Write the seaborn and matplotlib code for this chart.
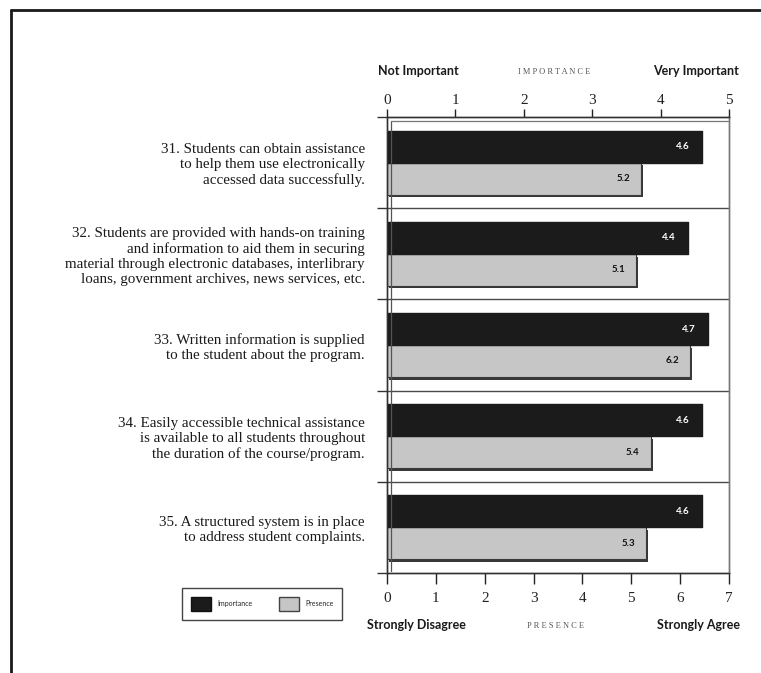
import matplotlib
matplotlib.use("Agg")
import matplotlib.pyplot as plt
import matplotlib.patheffects as pe
from matplotlib.lines import Line2D
from matplotlib.patches import Patch
import pandas as pd
import seaborn as sns

# ---- data -------------------------------------------------------------
items = [
    "31. Students can obtain assistance\nto help them use electronically\naccessed data successfully.",
    "32. Students are provided with hands-on training\nand information to aid them in securing\n"
    "material through electronic databases, interlibrary\nloans, government archives, news services, etc.",
    "33. Written information is supplied\nto the student about the program.",
    "34. Easily accessible technical assistance\nis available to all students throughout\n"
    "the duration of the course/program.",
    "35. A structured system is in place\nto address student complaints.",
]
importance = [4.6, 4.4, 4.7, 4.6, 4.6]
presence = [5.2, 5.1, 6.2, 5.4, 5.3]
importance_ticks = [0, 1, 2, 3, 4, 5]
presence_ticks = [0, 1, 2, 3, 4, 5, 6, 7]
series = ["Importance", "Presence"]

DARK = "#1b1b1b"
LIGHT = "#c6c6c6"
palette = {"Importance": DARK, "Presence": LIGHT}

df = pd.DataFrame({
    "item": items * 2,
    "series": ["Importance"] * len(items) + ["Presence"] * len(items),
    "value": importance + presence,
})

sns.set_theme(style="white")
SERIF = ["Liberation Serif", "DejaVu Serif"]
SANS = ["Lato", "DejaVu Sans"]
plt.rcParams["font.family"] = SERIF

W, H = 761, 673
fig = plt.figure(figsize=(W / 100, H / 100), dpi=100)
fig.patch.set_facecolor("white")


def fx(x):
    return x / W


def fy(y):
    return 1 - y / H


# presence scale on the bottom axis, importance scale on a twin top axis
ax = fig.add_axes([fx(387), fy(573), fx(729) - fx(387), fy(117) - fy(573)])
ax_imp = ax.twiny()

sns.barplot(data=df[df.series == "Presence"], x="value", y="item", hue="series",
            hue_order=series, palette=palette, orient="h", dodge=True, width=0.7,
            legend=False, ax=ax, edgecolor="#3a3a3a", linewidth=0.8)
sns.barplot(data=df[df.series == "Importance"], x="value", y="item", hue="series",
            hue_order=series, palette=palette, orient="h", dodge=True, width=0.7,
            legend=False, ax=ax_imp, edgecolor=DARK, linewidth=1.0)

for p in ax_imp.patches:
    p.set_joinstyle("round")
for p in ax.patches:
    p.set_path_effects([pe.SimplePatchShadow(offset=(1.5, -2), shadow_rgbFace="#222222", alpha=0.9),
                        pe.Normal()])

ax.set_xlim(0, 7)
ax_imp.set_xlim(0, 5)
ax.set_ylim(len(items) - 0.5, -0.5)

# value labels at the inner end of each bar
for p, v in zip(ax_imp.patches, importance):
    ax_imp.annotate(f"{v}", (v, p.get_y() + p.get_height() / 2), xytext=(-9, 0),
                    textcoords="offset points", ha="right", va="center",
                    fontsize=7, fontweight="bold", color="white", family=SANS)
for p, v in zip(ax.patches, presence):
    ax.annotate(f"{v}", (v, p.get_y() + p.get_height() / 2), xytext=(-8, 0),
                textcoords="offset points", ha="right", va="center",
                fontsize=7, fontweight="bold", color="#111111", family=SANS)

# category separators
for b in range(len(items) - 1):
    ax.axhline(b + 0.5, color="#4a4a4a", lw=1.0, zorder=0)

# axes styling
for a in (ax, ax_imp):
    for s in a.spines.values():
        s.set_color("#333333")
        s.set_linewidth(1.0)
ax.spines["right"].set_color("#777777")
ax_imp.spines["right"].set_color("#777777")

ax.set_xticks(presence_ticks)
ax.set_xticklabels([str(t) for t in presence_ticks])
ax.tick_params(axis="x", bottom=True, direction="out", length=8, width=1, pad=6,
               labelsize=11, colors="#222222")
ax_imp.set_xticks(importance_ticks)
ax_imp.set_xticklabels([str(t) for t in importance_ticks])
ax_imp.tick_params(axis="x", top=True, direction="out", length=6, width=1, pad=1,
                   labelsize=11, colors="#222222")
ax.set_xlabel("")
ax_imp.set_xlabel("")
ax.set_ylabel("")
ax_imp.set_ylabel("")

ax.set_yticks(range(len(items)))
ax.set_yticklabels(items)
ax.set_yticks([i + 0.5 for i in range(-1, len(items))], minor=True)
ax.tick_params(axis="y", which="major", left=False, length=0, pad=16, labelsize=10.8,
               colors="#1a1a1a")
ax.tick_params(axis="y", which="minor", left=True, direction="out", length=7, width=1,
               color="#333333")
for lab in ax.get_yticklabels():
    lab.set_linespacing(1.22)
    lab.set_horizontalalignment("right")
ax_imp.tick_params(axis="y", left=False, right=False, labelleft=False)

# back wall of the box
fig.add_artist(Line2D([fx(391), fx(391)], [fy(121), fy(571)], color="#555555", lw=0.9))
fig.add_artist(Line2D([fx(391), fx(729)], [fy(121), fy(121)], color="#777777", lw=0.9))

# scale titles
hdr = dict(family=SANS, fontsize=9, fontweight="bold", color="#1a1a1a", va="center")
fig.text(fx(378), fy(71), "Not Important", ha="left", **hdr)
fig.text(fx(739), fy(71), "Very Important", ha="right", **hdr)
fig.text(fx(367), fy(625), "Strongly Disagree", ha="left", **hdr)
fig.text(fx(740), fy(625), "Strongly Agree", ha="right", **hdr)
sub = dict(family=SERIF, fontsize=6, color="#555555", va="center", ha="center")
fig.text(fx(554), fy(72), "I M P O R T A N C E", **sub)
fig.text(fx(556), fy(626), "P R E S E N C E", **sub)

# legend
handles = [Patch(facecolor=DARK, edgecolor="#111111"),
           Patch(facecolor=LIGHT, edgecolor="#444444")]
leg = fig.legend(handles, series, loc="center", bbox_to_anchor=(fx(262), fy(604)),
                 ncol=2, frameon=True, fancybox=False, shadow=False,
                 handlelength=3.0, handleheight=2.8, handletextpad=0.8,
                 columnspacing=3.8, borderpad=1.2, edgecolor="#444444",
                 facecolor="white", framealpha=1.0,
                 prop={"family": SANS, "size": 5})
leg.get_frame().set_linewidth(1.0)
leg.get_frame().set_path_effects([pe.SimplePatchShadow(offset=(1.2, -1.2), shadow_rgbFace="#666666", alpha=0.8),
                                  pe.Normal()])

# page frame
fig.add_artist(Line2D([fx(11), fx(11)], [fy(10), fy(673)], color="#1a1a1a", lw=2))
fig.add_artist(Line2D([fx(11), 1.0], [fy(10), fy(10)], color="#1a1a1a", lw=2))

fig.savefig("out.png", dpi=100)
